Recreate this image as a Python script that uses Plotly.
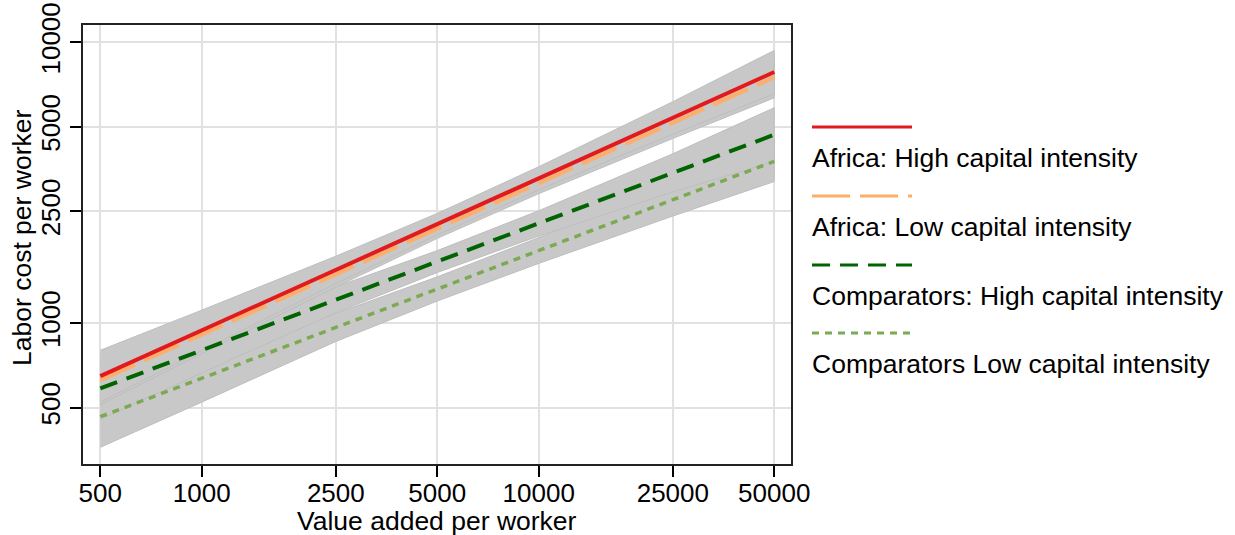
import plotly.graph_objects as go

# ---------------- data ----------------
x_vals = [500, 1000, 2500, 5000, 10000, 25000, 50000]

africa_high = [647, 942, 1547, 2252, 3278, 5377, 7834]
africa_high_lo = [523, 798, 1382, 2063, 2983, 4705, 6561]
africa_high_hi = [800, 1112, 1731, 2458, 3603, 6145, 9354]

africa_low = [626, 910, 1492, 2169, 3151, 5167, 7509]
africa_low_lo = [512, 779, 1343, 2003, 2890, 4545, 6339]
africa_low_hi = [775, 1075, 1675, 2375, 3475, 5937, 8995]

comp_high = [585, 800, 1211, 1656, 2265, 3428, 4688]
comp_high_lo = [454, 665, 1089, 1514, 2042, 2931, 3758]
comp_high_hi = [754, 962, 1346, 1812, 2512, 4009, 5848]

comp_low = [464, 636, 965, 1323, 1813, 2749, 3767]
comp_low_lo = [361, 523, 860, 1198, 1631, 2405, 3192]
comp_low_hi = [596, 774, 1083, 1461, 2016, 3142, 4446]

x_ticks = [500, 1000, 2500, 5000, 10000, 25000, 50000]
x_ticktext = ["500", "1000", "2500", "5000", "10000", "25000", "50000"]
y_ticks = [500, 1000, 2500, 5000, 10000]
y_ticktext = ["500", "1000", "2500", "5000", "10000"]

series_names = [
    "Africa: High capital intensity",
    "Africa: Low capital intensity",
    "Comparators: High capital intensity",
    "Comparators Low capital intensity",
]
series_colors = ["#e31a1c", "#fdae6b", "#006400", "#7caa52"]
series_dash = ["solid", "38px,10px", "18px,10px", "7px,6px"]
series_width = [4, 4, 4, 3.5]

# ---------------- figure ----------------
W, H = 1235, 535
plot_l, plot_r, plot_t, plot_b = 83, 791, 25, 464
FONT = "Liberation Sans, Arial, sans-serif"

fig = go.Figure()

band_fill = "#c8c8c8"
band_edge = "#bebebe"

bands = [
    (comp_low_lo, comp_low_hi),
    (comp_high_lo, comp_high_hi),
    (africa_low_lo, africa_low_hi),
    (africa_high_lo, africa_high_hi),
]
for lo, hi in bands:
    fig.add_trace(go.Scatter(
        x=list(x_vals) + list(x_vals)[::-1],
        y=list(hi) + list(lo)[::-1],
        mode="lines", fill="toself", fillcolor=band_fill,
        line=dict(color=band_edge, width=1),
        hoverinfo="skip", showlegend=False,
    ))

lines = [africa_high, africa_low, comp_high, comp_low]
for i in [1, 0, 2, 3]:
    fig.add_trace(go.Scatter(
        x=x_vals, y=lines[i], mode="lines", name=series_names[i],
        line=dict(color=series_colors[i], width=series_width[i], dash=series_dash[i]),
        showlegend=False,
    ))

axis_common = dict(
    type="log", showgrid=True, gridcolor="#e1e1e1", gridwidth=2,
    ticks="outside", ticklen=11, tickwidth=1.5, tickcolor="#000",
    showline=True, linecolor="#222", linewidth=2, mirror=True,
    tickfont=dict(family=FONT, size=26, color="#000"),
    zeroline=False, automargin=False,
)

fig.update_layout(
    width=W, height=H,
    margin=dict(l=plot_l, r=W - plot_r, t=plot_t, b=H - plot_b, pad=0,
                autoexpand=False),
    paper_bgcolor="white", plot_bgcolor="white",
    showlegend=False,
    xaxis=dict(axis_common, range=[2.6477, 4.7486],
               tickvals=x_ticks, ticktext=x_ticktext, ticklabelstandoff=-6),
    yaxis=dict(axis_common, range=[2.4982, 4.0615],
               tickvals=y_ticks, ticktext=y_ticktext, tickangle=-90),
)


def px(xp):
    return (xp - plot_l) / (plot_r - plot_l)


def py(yp):
    return (plot_b - yp) / (plot_b - plot_t)


# axis titles
fig.add_annotation(text="Value added per worker", xref="paper", yref="paper",
                   x=px(437), y=py(521), xanchor="center", yanchor="middle",
                   showarrow=False, font=dict(family=FONT, size=26.5, color="#000"))
fig.add_annotation(text="Labor cost per worker", xref="paper", yref="paper",
                   x=px(22), y=py(238), xanchor="center", yanchor="middle",
                   textangle=-90, showarrow=False,
                   font=dict(family=FONT, size=26.5, color="#000"))

# legend (sample line above its label)
sample_y = [127, 196, 265, 333]
for i in range(4):
    fig.add_shape(type="line", xref="paper", yref="paper",
                  x0=px(812), x1=px(912), y0=py(sample_y[i]), y1=py(sample_y[i]),
                  line=dict(color=series_colors[i], width=3, dash=series_dash[i]))
    fig.add_annotation(text=series_names[i], xref="paper", yref="paper",
                       x=px(810), y=py(sample_y[i] + 31), xanchor="left", yanchor="middle",
                       showarrow=False, font=dict(family=FONT, size=26.5, color="#000"))

fig.write_html("out.html")
